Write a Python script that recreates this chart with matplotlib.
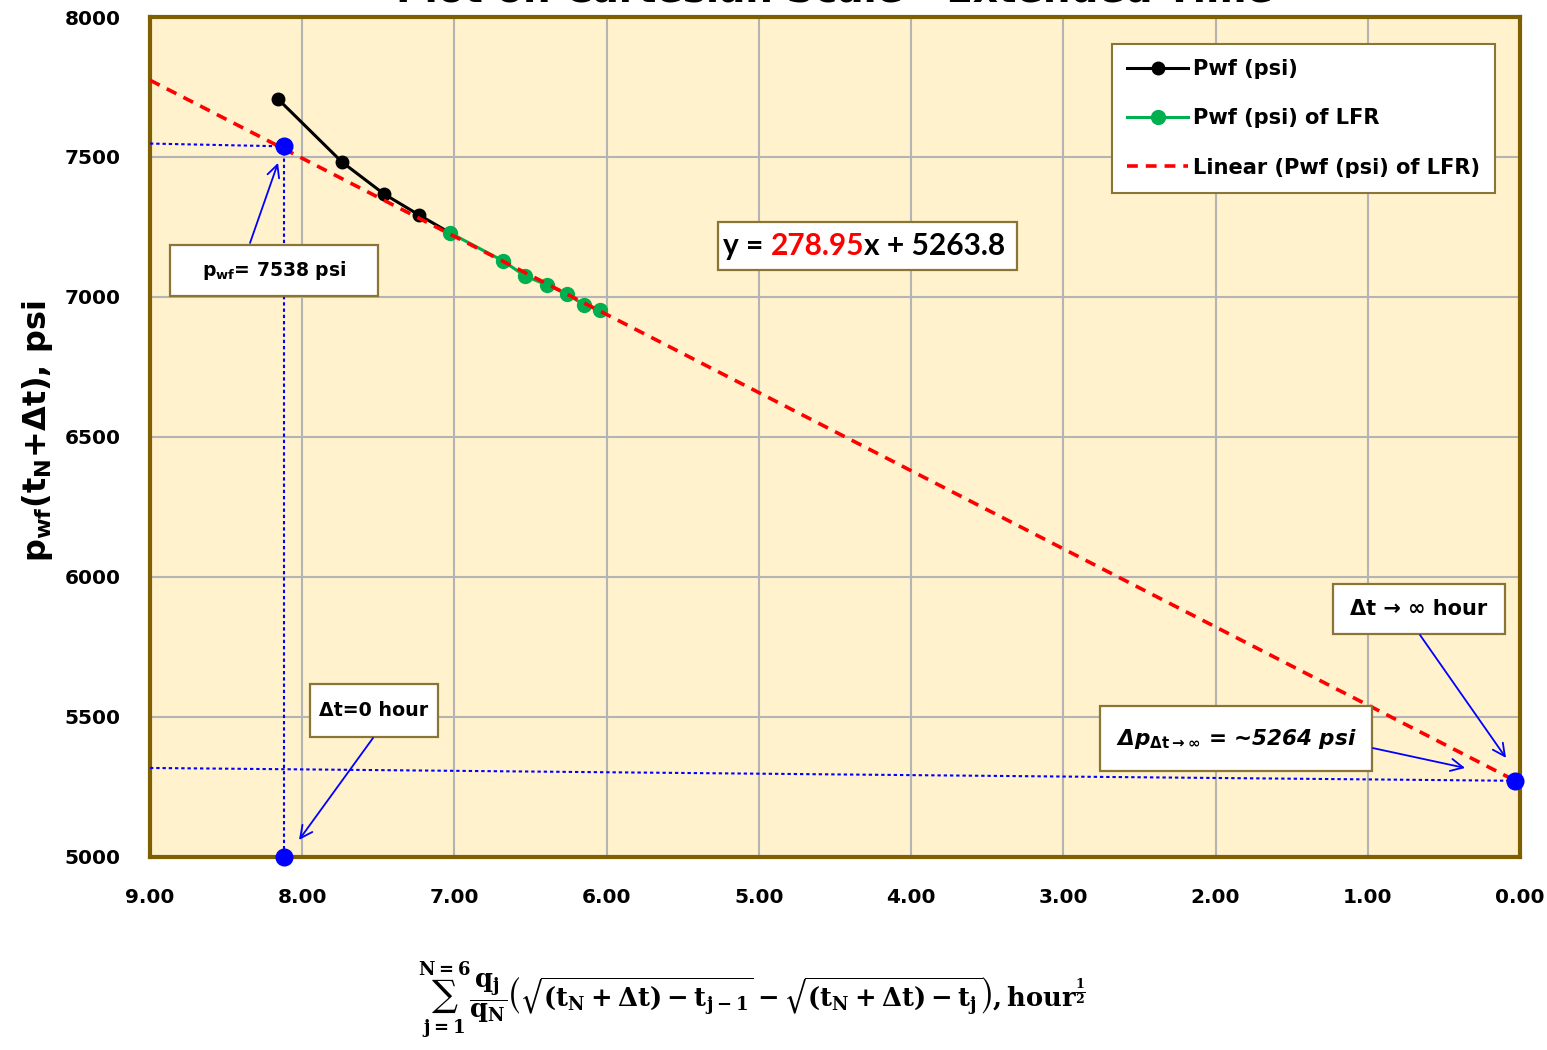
import numpy as np
import matplotlib.pyplot as plt
from matplotlib.patches import Rectangle

plt.rcParams['font.family'] = ['DejaVu Sans']
plt.rcParams['font.weight'] = 'bold'
plt.rcParams['mathtext.fontset'] = 'dejavusans'

# superposition time function (hour^0.5) and bottomhole pressure (psi)
t_all = [8.159, 7.739, 7.463, 7.233, 7.029]
p_all = [7707, 7482, 7368, 7293, 7229]
t_lfr = [7.029, 6.681, 6.536, 6.392, 6.260, 6.148, 6.043]
p_lfr = [7229, 7129, 7075, 7043, 7011, 6971, 6954]

slope = 278.95
intercept = 5263.8
p_start = 7538        # pwf at dt = 0
t_start = 8.12
t_end = 0.03
p_guide_left = 5318   # dotted guide towards the extrapolated pressure

xticks = [9, 8, 7, 6, 5, 4, 3, 2, 1, 0]
yticks = [5000, 5500, 6000, 6500, 7000, 7500, 8000]

fig = plt.figure(figsize=(15.47, 10.5), dpi=100)
ax = fig.add_axes([150 / 1547, 1 - 857 / 1050, 1370 / 1547, 840 / 1050])
ax.set_facecolor('#FFF2CC')
ax.set_xlim(9, 0)
ax.set_ylim(5000, 8000)
ax.set_xticks(xticks)
ax.set_xticklabels([f'{v:.2f}' for v in xticks])
ax.set_yticks(yticks)
ax.grid(True, color='#B4B4B4', lw=1.5)
ax.set_axisbelow(True)
ax.tick_params(length=0, labelsize=14.5)
ax.tick_params(axis='y', pad=21)
ax.tick_params(axis='x', pad=22)
for sp in ax.spines.values():
    sp.set_color('#7F6000')
    sp.set_linewidth(3)

ax.plot(t_all, p_all, color='black', lw=2.2, marker='o', ms=9,
        label='Pwf (psi)', zorder=4)
ax.plot(t_lfr, p_lfr, color='#00B050', lw=2.2, marker='o', ms=10,
        label='Pwf (psi) of LFR', zorder=5)
xfit = np.array([9.0, t_end])
ax.plot(xfit, slope * xfit + intercept, color='red', lw=2.6,
        dashes=(3.0, 2.2), label='Linear (Pwf (psi) of LFR)', zorder=6)

# guide lines and key points
guide = dict(color='blue', lw=1.5, dashes=(1.6, 1.4), zorder=3)
ax.plot([9.0, t_start], [p_start + 10, p_start], **guide)
ax.plot([t_start, t_start], [p_start, 5000], **guide)
p_end = slope * t_end + intercept
ax.plot([9.0, t_end], [p_guide_left, p_end], **guide)
ax.plot([t_start, t_start, t_end], [p_start, 5000, p_end], ls='none',
        marker='o', ms=12, color='blue', zorder=8, clip_on=False)

leg = ax.legend(loc='upper right', bbox_to_anchor=(0.982, 0.968),
                borderaxespad=0, fancybox=False, framealpha=1,
                edgecolor='#8B7536', prop={'weight': 'bold', 'size': 15.1},
                handlelength=2.9, labelspacing=1.4, borderpad=0.72,
                handletextpad=0.25)
leg.get_frame().set_linewidth(1.5)


def box(x0, x1, y0, y1, text, **kw):
    ax.add_patch(Rectangle((x1, y0), x0 - x1, y1 - y0, fc='white',
                           ec='#8B7536', lw=1.6, zorder=9))
    ax.text((x0 + x1) / 2, (y0 + y1) / 2, text, ha='center', va='center',
            zorder=10, **kw)


def arrow(tail, head):
    ax.annotate('', xy=head, xytext=tail, zorder=10,
                arrowprops=dict(arrowstyle='->', color='blue', lw=1.3,
                                mutation_scale=22, shrinkA=0, shrinkB=0))


box(8.869, 7.502, 7004, 7186, r'p$_{\mathbf{wf}}$= 7538 psi', fontsize=13.5)
arrow((8.343, 7193), (8.159, 7479))

box(7.949, 7.108, 5429, 5618, 'Δt=0 hour', fontsize=13.7)
arrow((7.535, 5425), (8.021, 5061))

box(1.228, 0.098, 5796, 5975, 'Δt → ∞ hour', fontsize=15)
arrow((0.657, 5793), (0.092, 5354))

box(2.759, 0.972, 5307, 5539,
    r'Δp$_{\mathbf{Δt \rightarrow \infty}}$ = ~5264 psi',
    fontsize=15.5, fontstyle='italic')
arrow((0.966, 5389), (0.361, 5318))

# trendline equation
ax.add_patch(Rectangle((3.304, 7096), 5.269 - 3.304, 7268 - 7096,
                       fc='white', ec='#8B7536', lw=1.6, zorder=9))
eq_y = (7096 + 7268) / 2
eq_font = dict(fontsize=21.5, fontweight='bold', family=['Lato', 'DejaVu Sans'],
               va='center', zorder=10)
t1 = ax.text(5.235, eq_y, 'y = ', ha='left', **eq_font)
fig.canvas.draw()
t2 = ax.annotate(f'{slope:.2f}', xycoords=t1, xy=(1, 0.5), color='red',
                 **eq_font)
fig.canvas.draw()
ax.annotate(f'x + {intercept:.1f}', xycoords=t2, xy=(1, 0.5), **eq_font)

ax.set_title('Plot on Cartesian Scale - Extended Time', fontsize=28,
             fontweight='bold', pad=11)

fig.text(38 / 1547, 1 - 431 / 1050,
         r'p$_{\mathbf{wf}}$(t$_{\mathbf{N}}$+Δt), psi', rotation=90,
         ha='center', va='center', fontsize=23)

xlab = (r'$\mathbf{\sum_{j=1}^{N=6}\dfrac{q_j}{q_N}'
        r'\left(\sqrt{(t_N+\Delta t)-t_{j-1}}-\sqrt{(t_N+\Delta t)-t_j}\right)'
        r',hour^{\frac{1}{2}}}$')
fig.text(752 / 1547, 1 - 1000 / 1050, xlab, ha='center', va='center',
         fontsize=18.5, math_fontfamily='dejavuserif')

fig.savefig('out.png', dpi=100)
